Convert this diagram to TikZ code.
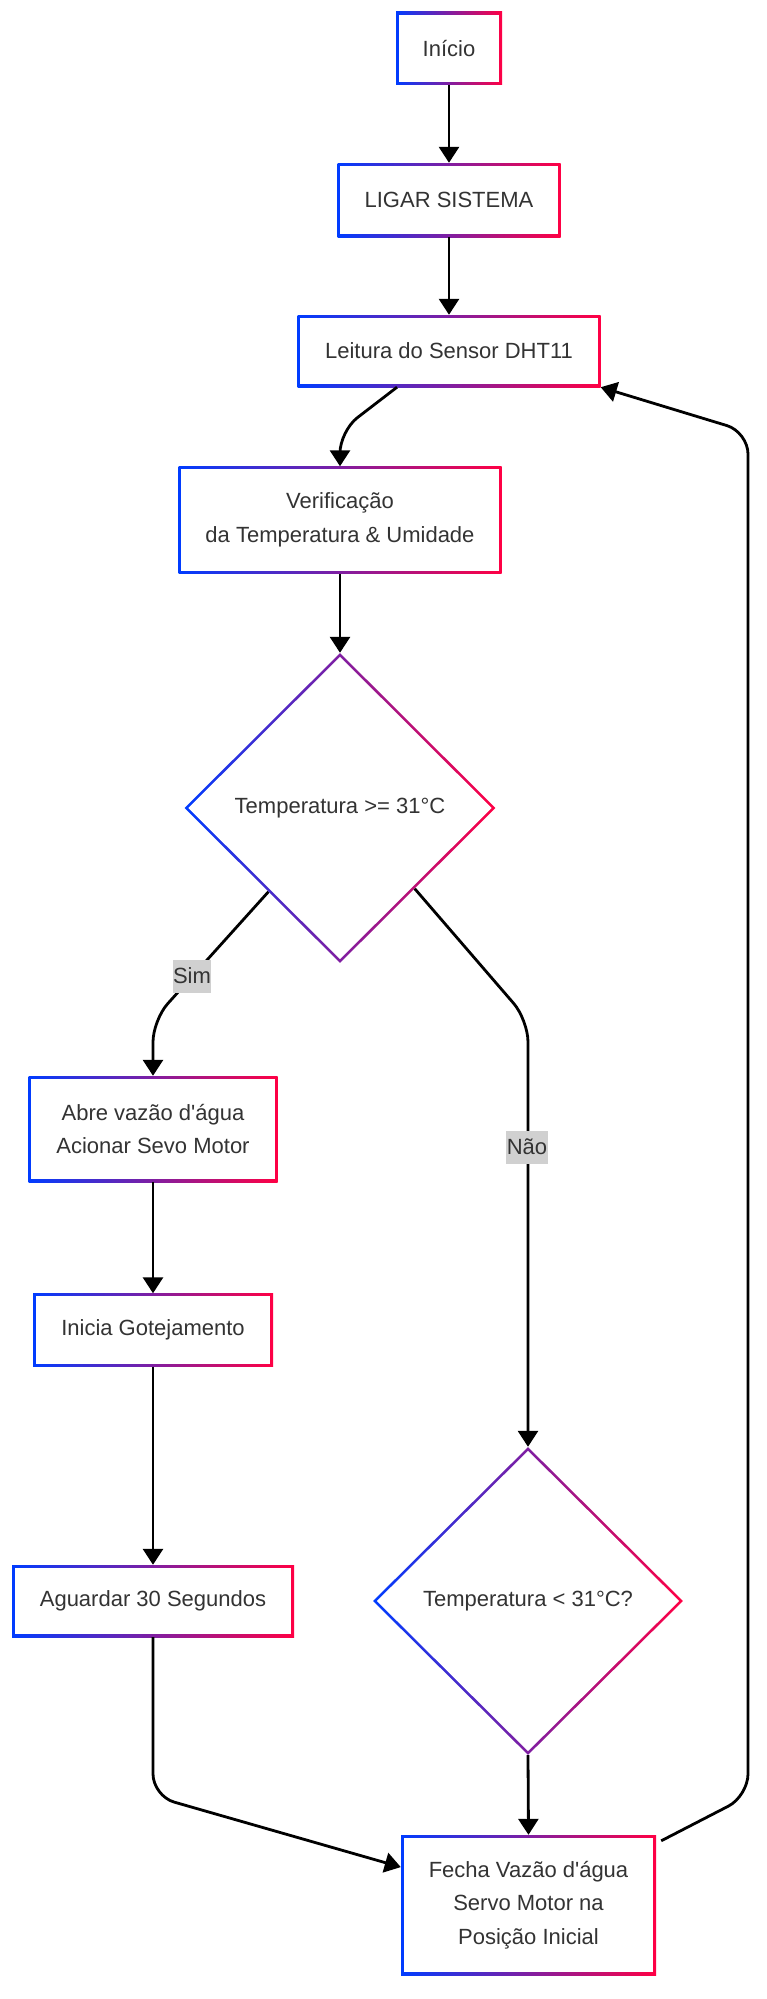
\documentclass[tikz,border=0pt]{standalone}
\usepackage{fontspec}
\setmainfont{Liberation Sans}[Ligatures=TeXOff]
\usetikzlibrary{arrows.meta,calc,positioning,shapes.geometric}
\definecolor{gblue}{HTML}{003CFF}
\definecolor{gred}{HTML}{FF0044}
\definecolor{txt}{HTML}{333333}
\definecolor{lblgray}{HTML}{D0D0D0}

\begin{document}
\begin{tikzpicture}[x=1pt,y=-1pt,
  every node/.style={font=\fontsize{22}{33.5}\selectfont, text=txt, align=center},
  proc/.style={rectangle, inner sep=0pt, left color=gblue, right color=gred,
    path picture={\fill[white] ($(path picture bounding box.north west)+(2.7pt,-2.7pt)$) rectangle ($(path picture bounding box.south east)+(-2.7pt,2.7pt)$);}},
  dec/.style={diamond, inner sep=0pt, minimum width=311pt, minimum height=310pt, left color=gblue, right color=gred,
    path picture={\fill[white] ($(path picture bounding box.north)+(0,-3.8pt)$) -- ($(path picture bounding box.east)+(-3.8pt,0)$) -- ($(path picture bounding box.south)+(0,3.8pt)$) -- ($(path picture bounding box.west)+(3.8pt,0)$) -- cycle;}},
  lbl/.style={fill=lblgray, inner xsep=0.5pt, inner ysep=0pt, minimum height=33pt},
  arr/.style={line width=2.8pt, -{Triangle[length=16pt,width=20pt]}},
  flow/.style={arr, rounded corners=22pt}]
\useasboundingbox (0,0) rectangle (767,1999);
\node[proc, minimum width=106pt, minimum height=73pt] (inicio) at (449,48.5) {Início};
\node[proc, minimum width=223pt, minimum height=74pt] (ligar) at (449,200) {LIGAR SISTEMA};
\node[proc, minimum width=303pt, minimum height=72pt] (leitura) at (449,351) {Leitura do Sensor DHT11};
\node[proc, minimum width=323pt, minimum height=107pt] (verif) at (340,520) {Verificação\\da Temperatura \& Umidade};
\node[dec] (temp1) at (340,808) {Temperatura >= 31°C};
\node[proc, minimum width=249pt, minimum height=106pt] (abre) at (153,1129) {Abre vazão d'água\\Acionar Sevo Motor};
\node[proc, minimum width=240pt, minimum height=73pt] (gotej) at (153,1330) {Inicia Gotejamento};
\node[proc, minimum width=282pt, minimum height=72pt] (aguarda) at (153,1601) {Aguardar 30 Segundos};
\node[dec, minimum width=310pt, minimum height=308pt] (temp2) at (528,1601) {Temperatura < 31°C?};
\node[proc, minimum width=255pt, minimum height=140pt] (fecha) at (528.5,1905) {Fecha Vazão d'água\\Servo Motor na\\Posição Inicial};
\coordinate (c1) at (340,431);
\coordinate (c2) at (153,1020);
\coordinate (c3) at (528,1020);
\coordinate (c4) at (153,1796);
\coordinate (c5) at (748,1796);
\coordinate (c6) at (748,432);
\draw[arr] (inicio.south) -- (ligar.north);
\draw[arr] (ligar.south) -- (leitura.north);
\draw[flow] ($(leitura.south)+(-52,0)$) -- (c1) -- (verif.north);
\draw[arr] (verif.south) -- (temp1.north);
\draw[flow] ($(temp1.south)!0.46!(temp1.west)$) -- (c2) -- (abre.north);
\draw[flow] ($(temp1.south)!0.48!(temp1.east)$) -- (c3) -- (temp2.north);
\draw[arr] (abre.south) -- (gotej.north);
\draw[arr] (gotej.south) -- (aguarda.north);
\draw[flow] (aguarda.south) -- (c4) -- ($(fecha.north west)!0.23!(fecha.south west)$);
\draw[arr] (temp2.south) -- (fecha.north);
\draw[flow] ($(fecha.north east)+(5,6)$) -- (c5) -- (c6) -- (leitura.south east);
\node[lbl] (sim) at (192,976) {Sim};
\node[lbl] (nao) at (527,1147) {Não};
\end{tikzpicture}
\end{document}
